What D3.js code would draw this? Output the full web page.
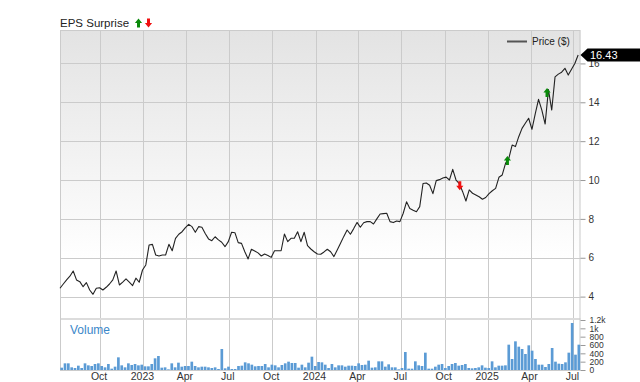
<!DOCTYPE html>
<html><head><meta charset="utf-8">
<script src="https://cdn.jsdelivr.net/npm/d3@7"></script>
<style>body{margin:0;background:#fff}svg{display:block;font-family:"Liberation Sans",Arial,Helvetica,sans-serif}</style>
</head><body><svg id="c" width="640" height="382"></svg>
<script>
// ---------- DATA ----------
const priceStartDate = "2022-07-08"; // weekly closes from this date
const priceValues = [
4.43,4.65,4.86,5.05,5.32,4.86,4.77,4.51,4.72,4.34,
4.12,4.43,4.46,4.34,4.48,4.65,4.86,5.32,4.60,4.75,
4.91,4.75,4.57,4.95,4.74,5.37,5.63,6.66,6.69,6.14,
6.09,6.14,6.14,6.69,6.36,7.00,7.21,7.34,7.55,7.72,
7.60,7.31,7.60,7.57,7.25,6.97,6.88,7.08,6.92,6.80,
6.57,6.83,7.31,7.29,6.78,6.74,6.31,5.94,6.44,6.35,
6.25,6.09,6.19,6.12,6.02,6.36,6.36,6.36,7.22,6.83,
7.00,7.00,7.34,6.83,7.31,6.62,6.45,6.31,6.19,6.18,
6.30,6.44,6.31,6.06,6.40,6.75,7.10,7.43,7.21,7.50,
7.82,7.57,7.80,7.86,7.86,7.74,8.00,8.25,8.27,8.29,
7.86,7.81,7.89,7.86,8.29,8.88,8.54,8.45,8.37,8.63,
9.82,9.85,9.73,9.30,9.97,10.02,10.10,10.15,10.00,10.55,
10.00,9.82,9.40,8.92,9.49,9.32,9.23,9.14,9.01,9.10,
9.30,9.45,9.57,10.14,10.26,10.86,11.12,11.80,11.72,12.23,
12.66,12.92,13.18,12.61,13.40,14.15,13.60,12.88,14.65,13.60,
15.31,15.45,15.55,15.75,15.40,15.70,16.00,16.43
];
const volumeStartDate = "2022-07-08"; // weekly volume from this date
const volumeValues = [
56,160,160,64,48,104,48,160,112,96,144,160,96,64,144,32,80,304,112,64,160,120,144,112,128,88,88,144,280,336,56,64,16,160,64,176,80,96,96,
200,96,64,80,80,64,48,64,24,504,40,80,24,24,96,104,184,160,128,88,96,96,144,64,128,112,64,120,160,200,168,168,56,128,64,176,320,96,192,
184,128,48,144,64,112,112,80,104,104,96,160,120,128,224,56,64,208,208,80,136,64,64,16,48,432,32,32,208,112,96,416,32,32,80,128,144,48,96,
144,168,104,120,144,48,40,48,64,112,56,48,208,64,104,104,112,608,264,688,560,504,384,592,464,264,128,128,72,144,528,200,152,144,184,416,1128,368,608
];
const epsDates = ["2024-11-02","2025-02-11","2025-05-06"];
const epsTypes = ["miss","beat","beat"];
const epsPrices = [9.7, 11.0, 14.5];
const xDomainDates = ["2022-07-08","2025-07-16"];
const xTickLabels = ["Oct","2023","Apr","Jul","Oct","2024","Apr","Jul","Oct","2025","Apr","Jul"];
const priceTicks = [4,6,8,10,12,14,16];
const priceDomain = [2.9, 17.72];
const volumeTicks = [0,200,400,600,800,1000,1200];
const volumeDomain = [0,1200];
const lastPrice = 16.43;

// ---------- LAYOUT ----------
const L = 60, R = 580.5, T = 30, PB = 318, VT = 320, VB = 370;
const parse = d3.utcParse("%Y-%m-%d");
const svg = d3.select("#c");

const x = d3.scaleUtc().domain(xDomainDates.map(parse)).range([L, R]);
const y = d3.scaleLinear().domain(priceDomain).range([PB, T]);
const yv = d3.scaleLinear().domain(volumeDomain).range([VB, VT]);

const pStart = parse(priceStartDate);
const priceData = priceValues.map((v, i) => ({date: d3.utcDay.offset(pStart, 7 * i), v}));
const vStart = parse(volumeStartDate);
const volData = volumeValues.map((v, i) => ({date: d3.utcDay.offset(vStart, 7 * i), v}));
const xb = d3.scaleBand().domain(volData.map(d => +d.date)).range([L, R]).paddingInner(0.2).paddingOuter(0.1);

// background gradient
const defs = svg.append("defs");
const g = defs.append("linearGradient").attr("id", "bg").attr("x1", 0).attr("y1", 0).attr("x2", 0).attr("y2", 1);
g.append("stop").attr("offset", "0%").attr("stop-color", "#e3e3e3");
g.append("stop").attr("offset", "80%").attr("stop-color", "#ffffff");
svg.append("rect").attr("x", L).attr("y", T).attr("width", R - L).attr("height", PB - T).attr("fill", "url(#bg)");
svg.append("rect").attr("x", L).attr("y", VT).attr("width", R - L).attr("height", VB - VT).attr("fill", "#fff");

const gridColor = "#cbcbcb";
// horizontal grid (price)
svg.append("g").selectAll("line").data(priceTicks).join("line")
  .attr("x1", L).attr("x2", R).attr("y1", d => Math.round(y(d)) + 0.5).attr("y2", d => Math.round(y(d)) + 0.5)
  .attr("stroke", gridColor);
// vertical grid
const xTicks = d3.utcMonth.every(3).range(parse("2022-09-15"), parse("2025-07-16"));
svg.append("g").selectAll("line").data(xTicks).join("line")
  .attr("x1", d => Math.round(x(d)) + 0.5).attr("x2", d => Math.round(x(d)) + 0.5)
  .attr("y1", T).attr("y2", VB).attr("stroke", gridColor);

// divider
svg.append("line").attr("x1", L).attr("x2", R).attr("y1", 319).attr("y2", 319).attr("stroke", "#dcdcdc").attr("stroke-width", 2);
// border
svg.append("rect").attr("x", L + 0.5).attr("y", T + 0.5).attr("width", R - L - 1).attr("height", VB - T).attr("fill", "none").attr("stroke", gridColor);

// volume bars
svg.append("g").selectAll("rect").data(volData).join("rect")
  .attr("x", d => xb(+d.date)).attr("width", xb.bandwidth())
  .attr("y", d => yv(d.v)).attr("height", d => VB - yv(d.v))
  .attr("fill", "#5b9bd5");

// Volume label
svg.append("text").attr("x", 70).attr("y", 334).attr("font-size", 12).attr("fill", "#3b87c9").text("Volume");

// price line
svg.append("path").datum(priceData)
  .attr("d", d3.line().x(d => x(d.date)).y(d => y(d.v)))
  .attr("fill", "none").attr("stroke", "#222").attr("stroke-width", 1.1).attr("stroke-linejoin", "round");

// EPS arrows
const upArrow = "M0,-4.5L3.6,0L1.5,0L1.5,4.5L-1.5,4.5L-1.5,0L-3.6,0Z";
const downArrow = "M0,4.5L3.6,0L1.5,0L1.5,-4.5L-1.5,-4.5L-1.5,0L-3.6,0Z";
epsDates.forEach((ds, i) => {
  svg.append("path").attr("d", epsTypes[i] === "beat" ? upArrow : downArrow)
    .attr("transform", `translate(${x(parse(ds))},${y(epsPrices[i])})`)
    .attr("fill", epsTypes[i] === "beat" ? "#0a8a0a" : "#f01010");
});

// price axis (right)
const pa = svg.append("g").attr("transform", `translate(${R},0)`)
  .call(d3.axisRight(y).tickValues(priceTicks).tickSize(5).tickPadding(3).tickFormat(d3.format("d")));
pa.select(".domain").remove();
pa.selectAll("line").attr("stroke", "#999");
pa.selectAll("text").attr("font-size", 10).attr("fill", "#333").attr("font-family", "Liberation Sans, Arial, sans-serif");

// volume axis
const va = svg.append("g").attr("transform", `translate(${R},0)`)
  .call(d3.axisRight(yv).tickValues(volumeTicks).tickSize(5).tickPadding(4)
    .tickFormat(d => d >= 1000 ? (d / 1000) + "k" : d));
va.select(".domain").remove();
va.selectAll("line").attr("stroke", "#999");
va.selectAll("text").attr("font-size", 8.5).attr("fill", "#333").attr("font-family", "Liberation Sans, Arial, sans-serif");

// x labels
svg.append("g").selectAll("text").data(xTicks).join("text")
  .attr("x", d => x(d) - 1).attr("y", 380).attr("text-anchor", "middle")
  .attr("font-size", 10.5).attr("fill", "#333")
  .text((d, i) => xTickLabels[i]);

// Title
svg.append("text").attr("x", 60).attr("y", 27).attr("font-size", 11.5).attr("fill", "#222").text("EPS Surprise");
svg.append("path").attr("d", upArrow).attr("transform", "translate(138.5,23)").attr("fill", "#0a8a0a");
svg.append("path").attr("d", downArrow).attr("transform", "translate(148.5,23)").attr("fill", "#f01010");

// legend
svg.append("line").attr("x1", 507).attr("x2", 527).attr("y1", 41.5).attr("y2", 41.5).attr("stroke", "#555").attr("stroke-width", 2);
svg.append("text").attr("x", 532).attr("y", 45).attr("font-size", 10).attr("fill", "#222").text("Price ($)");

// last price flag
const fy = y(lastPrice);
svg.append("path")
  .attr("d", `M${R},${fy}L${R + 7},${fy - 6.5}L640,${fy - 6.5}L640,${fy + 6.5}L${R + 7},${fy + 6.5}Z`)
  .attr("fill", "#000");
svg.append("text").attr("x", 590).attr("y", fy + 4).attr("font-size", 11).attr("fill", "#fff").text(lastPrice.toFixed(2));
</script></body></html>
